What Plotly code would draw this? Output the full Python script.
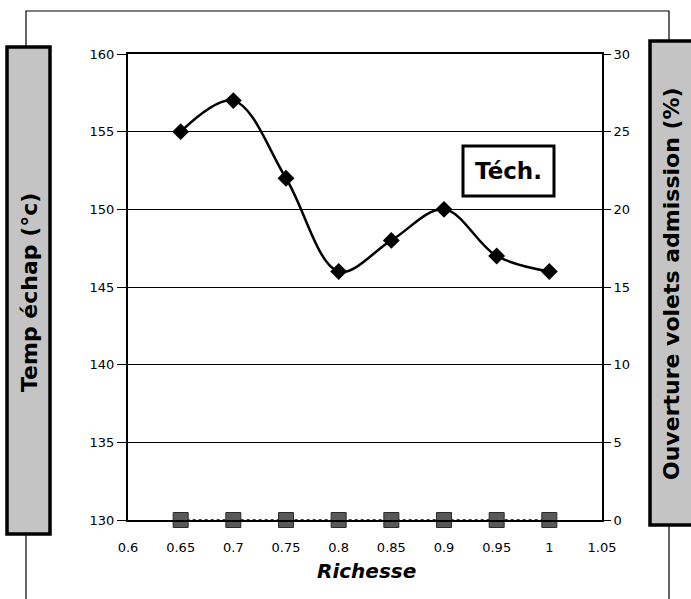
import plotly.graph_objects as go

richesse = [0.65, 0.7, 0.75, 0.8, 0.85, 0.9, 0.95, 1.0]
temp_echap = [155, 157, 152, 146, 148, 150, 147, 146]
ouverture_volets = [0, 0, 0, 0, 0, 0, 0, 0]

x_ticks = [0.6, 0.65, 0.7, 0.75, 0.8, 0.85, 0.9, 0.95, 1.0, 1.05]
x_ticktext = ["0.6", "0.65", "0.7", "0.75", "0.8", "0.85", "0.9", "0.95", "1", "1.05"]
y1_ticks = [130, 135, 140, 145, 150, 155, 160]
y2_ticks = [0, 5, 10, 15, 20, 25, 30]

W, H = 691, 599
L, R, T, B = 128, 89, 54, 79
pw, ph = W - L - R, H - T - B

def px(x):
    return (x - L) / pw

def py(y):
    return (H - B - y) / ph

FONT = "DejaVu Sans"

fig = go.Figure()

fig.add_trace(go.Scatter(
    x=richesse, y=ouverture_volets, yaxis="y2", mode="lines+markers",
    line=dict(color="black", width=1.5, dash="dot"),
    marker=dict(symbol="square", size=15, color="#585858",
                line=dict(color="#2a2a2a", width=1)),
    cliponaxis=False, showlegend=False))

fig.add_trace(go.Scatter(
    x=richesse, y=temp_echap, mode="lines+markers",
    line=dict(color="black", width=2.5, shape="spline", smoothing=1.0),
    marker=dict(symbol="diamond", size=13, color="black"),
    showlegend=False))

shapes = [
    # outer frame
    dict(type="rect", xref="paper", yref="paper",
         x0=px(26), x1=px(669), y0=py(640), y1=py(11),
         line=dict(color="black", width=1.2), fillcolor="rgba(0,0,0,0)", layer="below"),
    # left title box
    dict(type="rect", xref="paper", yref="paper",
         x0=px(7), x1=px(50), y0=py(534), y1=py(47),
         line=dict(color="black", width=3.5), fillcolor="#c4c4c4", layer="above"),
    # right title box
    dict(type="rect", xref="paper", yref="paper",
         x0=px(650), x1=px(695), y0=py(525), y1=py(41),
         line=dict(color="black", width=3.5), fillcolor="#c4c4c4", layer="above"),
    # Tech. box
    dict(type="rect", xref="paper", yref="paper",
         x0=px(463), x1=px(554), y0=py(196), y1=py(146),
         line=dict(color="black", width=3), fillcolor="white", layer="above"),
]

annotations = [
    dict(text="<b>Temp échap (°c)</b>", xref="paper", yref="paper",
         x=px(29), y=py(293), xanchor="center", yanchor="middle",
         textangle=-90, showarrow=False,
         font=dict(size=22, color="black", family=FONT)),
    dict(text="<b>Ouverture volets admission (%)</b>", xref="paper", yref="paper",
         x=px(671), y=py(284), xanchor="center", yanchor="middle",
         textangle=-90, showarrow=False,
         font=dict(size=22, color="black", family=FONT)),
    dict(text="<b>Téch.</b>", xref="paper", yref="paper",
         x=px(508), y=py(171), xanchor="center", yanchor="middle", showarrow=False,
         font=dict(size=23, color="black", family=FONT)),
    dict(text="<b><i>Richesse</i></b>", xref="paper", yref="paper",
         x=px(366), y=py(571), xanchor="center", yanchor="middle", showarrow=False,
         font=dict(size=20, color="black", family=FONT)),
]

fig.update_layout(
    width=W, height=H,
    margin=dict(l=L, r=R, t=T, b=B),
    paper_bgcolor="white", plot_bgcolor="white",
    font=dict(family=FONT, size=13, color="black"),
    shapes=shapes, annotations=annotations,
    xaxis=dict(range=[0.6, 1.05], tickvals=x_ticks, ticktext=x_ticktext,
               showgrid=False, zeroline=False, showline=True, mirror=True,
               linecolor="black", linewidth=2, ticks="", ticklabelstandoff=14,
               tickfont=dict(size=13)),
    yaxis=dict(range=[130, 160], tickvals=y1_ticks, showgrid=True,
               gridcolor="black", gridwidth=1, zeroline=False, showline=True,
               linecolor="black", linewidth=2, ticks="outside", ticklen=9,
               tickcolor="black", tickfont=dict(size=13)),
    yaxis2=dict(range=[0, 30], tickvals=y2_ticks, overlaying="y", side="right",
                showgrid=False, zeroline=False, showline=True,
                linecolor="black", linewidth=2, ticks="outside", ticklen=7,
                tickcolor="black", tickfont=dict(size=13)),
)

fig.write_html("out.html", config={"displayModeBar": False},
               post_script="document.body.style.margin='0';document.body.style.padding='0';")
